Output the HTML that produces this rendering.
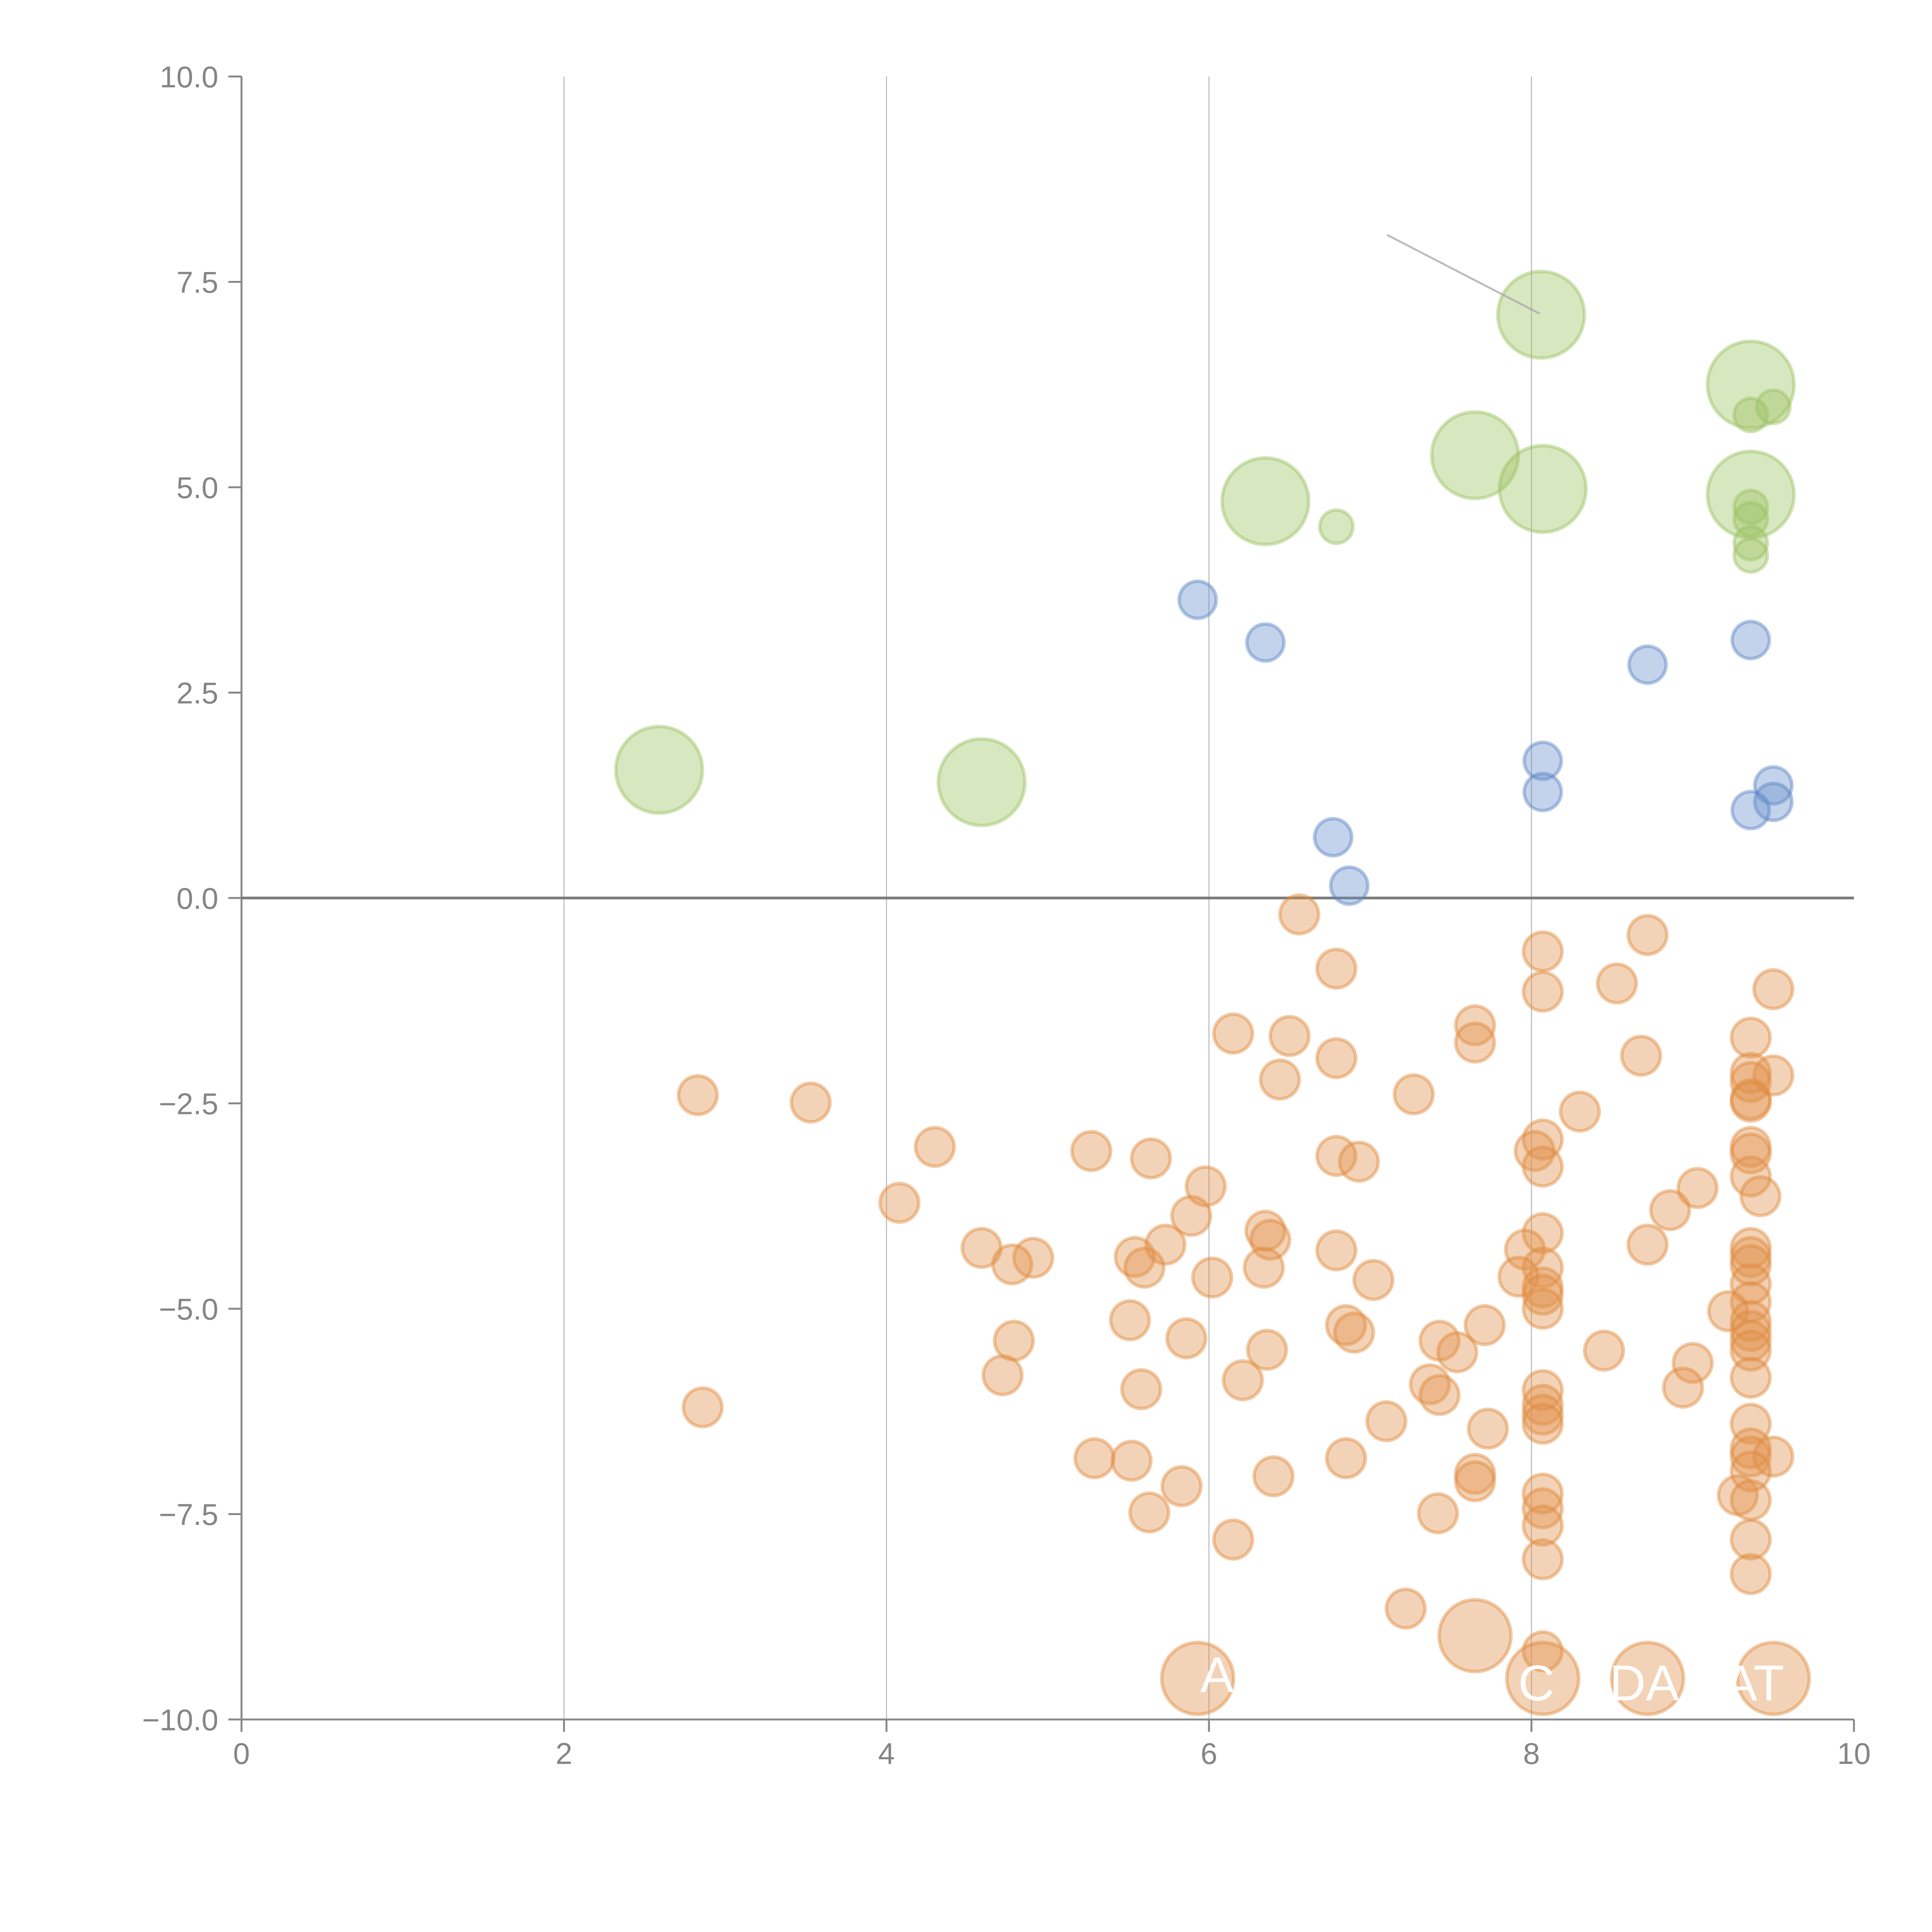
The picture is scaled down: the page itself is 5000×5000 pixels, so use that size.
<!DOCTYPE html>
<html><head><meta charset="utf-8"><style>
html,body{margin:0;padding:0;background:#fff;width:5000px;height:5000px;overflow:hidden}
svg{display:block}
text{font-family:"Liberation Sans",Arial,sans-serif}
</style></head><body>
<svg id="chart" width="5000" height="5000" xmlns="http://www.w3.org/2000/svg">
<rect width="5000" height="5000" fill="#fff"/>
<g id="grid"></g>
<g id="axes"></g>
<g id="marks"></g>
<g id="labels"></g>
</svg>
<script>
const xTicks = [0, 2, 4, 6, 8, 10];
const yTicks = [-10, -7.5, -5, -2.5, 0, 2.5, 5, 7.5, 10];
const yTickLabels = ["\u221210.0", "\u22127.5", "\u22125.0", "\u22122.5", "0.0", "2.5", "5.0", "7.5", "10.0"];

const greenLargeX = [8.06, 9.36, 7.65, 6.35, 8.07, 9.36, 2.59, 4.59];
const greenLargeY = [7.10, 6.25, 5.39, 4.83, 4.98, 4.91, 1.56, 1.41];
const greenSmallX = [9.36, 9.50, 6.79, 9.36, 9.36, 9.36, 9.36];
const greenSmallY = [5.88, 5.98, 4.52, 4.76, 4.61, 4.32, 4.17];
const blueX = [5.93, 6.35, 8.72, 9.36, 8.07, 8.07, 9.50, 9.50, 9.36, 6.77, 6.87];
const blueY = [3.63, 3.11, 2.84, 3.14, 1.67, 1.29, 1.37, 1.17, 1.07, 0.74, 0.15];
const orangeX = [6.56,8.72,8.07,6.79,8.53,8.07,9.50,7.65,6.15,6.50,9.36,7.65,8.68,6.79,9.36,9.50,9.36,6.44,2.83,7.27,3.53,9.36,9.36,8.30,8.07,4.30,5.27,8.02,9.36,9.36,5.64,6.79,6.93,8.07,9.36,9.03,5.98,9.42,4.08,8.86,5.89,6.35,8.07,6.38,5.73,8.72,7.96,9.36,4.59,6.79,9.36,4.91,5.54,4.78,5.60,6.34,8.07,9.36,6.02,7.92,7.02,9.36,8.07,8.07,9.36,8.07,9.22,5.51,9.36,7.71,6.85,6.90,9.36,9.36,5.86,4.79,7.43,9.36,6.36,7.54,8.45,9.00,4.72,9.36,6.21,5.58,8.94,7.37,7.43,8.07,8.07,2.86,8.07,8.07,9.36,7.10,7.73,9.36,9.36,9.50,5.29,5.52,6.85,9.36,7.65,6.40,7.65,5.83,9.28,8.07,9.36,8.07,5.63,7.42,8.07,6.15,9.36,8.07,9.36,7.22,8.07];
const orangeY = [-0.20,-0.45,-0.65,-0.86,-1.04,-1.14,-1.11,-1.55,-1.65,-1.68,-1.70,-1.76,-1.92,-1.95,-2.13,-2.16,-2.24,-2.21,-2.40,-2.39,-2.49,-2.45,-2.48,-2.60,-2.94,-3.03,-3.08,-3.08,-3.03,-3.11,-3.17,-3.14,-3.21,-3.27,-3.39,-3.53,-3.51,-3.63,-3.71,-3.80,-3.87,-4.05,-4.08,-4.16,-4.22,-4.22,-4.28,-4.26,-4.26,-4.29,-4.37,-4.38,-4.37,-4.46,-4.50,-4.50,-4.50,-4.47,-4.62,-4.61,-4.65,-4.70,-4.74,-4.83,-4.92,-5.00,-5.03,-5.14,-5.15,-5.20,-5.20,-5.29,-5.27,-5.39,-5.36,-5.39,-5.39,-5.51,-5.50,-5.53,-5.51,-5.66,-5.81,-5.84,-5.87,-5.98,-5.96,-5.92,-6.05,-5.99,-6.17,-6.20,-6.29,-6.40,-6.40,-6.37,-6.46,-6.70,-6.80,-6.80,-6.82,-6.85,-6.82,-6.98,-7.01,-7.04,-7.10,-7.16,-7.27,-7.25,-7.33,-7.43,-7.48,-7.49,-7.64,-7.81,-7.81,-8.05,-8.23,-8.65,-9.17];
const orangeLargeX = [7.65, 5.93, 8.07, 8.72, 9.50];
const orangeLargeY = [-8.98, -9.50, -9.50, -9.50, -9.50];
const bubbleLabels = ["A", "C", "DA", "AT"];
const bubbleLabelX = [6.05, 8.03, 8.70, 9.38];
const bubbleLabelY = [-9.45, -9.55, -9.55, -9.55];

const X0 = 625, X1 = 4798, Y0 = 4450, Y1 = 198;
const sx = v => X0 + (v - 0) / 10 * (X1 - X0);
const sy = v => Y0 - (v + 10) / 20 * (Y0 - Y1);
const NS = "http://www.w3.org/2000/svg";
function mk(tag, parent, attrs) {
  const e = document.createElementNS(NS, tag);
  for (const k in attrs) e.setAttribute(k, attrs[k]);
  parent.appendChild(e);
  return e;
}
const grid = document.getElementById('grid');
const axes = document.getElementById('axes');
const marks = document.getElementById('marks');
const labels = document.getElementById('labels');

xTicks.forEach((t) => {
  if (t > 0 && t < 10) {
    const g = mk('line', grid, {x1: sx(t), x2: sx(t), y1: sy(10), y2: sy(-10), stroke: '#b5b5b5', 'stroke-width': 2.5});
    
    
  }
  const tk = mk('line', axes, {x1: sx(t), x2: sx(t), y1: sy(-10), y2: sy(-10) + 32, stroke: '#888', 'stroke-width': 5});
  
  
  const tl = mk('text', axes, {x: sx(t), y: sy(-10) + 115, 'text-anchor': 'middle', 'font-size': 78, fill: '#858585'});
  tl.textContent = String(t);
  
  
});
yTicks.forEach((t, i) => {
  const tk = mk('line', axes, {x1: sx(0) - 34, x2: sx(0), y1: sy(t), y2: sy(t), stroke: '#888', 'stroke-width': 5});
  
  
  const tl = mk('text', axes, {x: sx(0) - 60, y: sy(t) + 28, 'text-anchor': 'end', 'font-size': 78, fill: '#858585'});
  tl.textContent = yTickLabels[i];
  
  
});
const ya = mk('line', axes, {x1: sx(0), x2: sx(0), y1: sy(10), y2: sy(-10), stroke: '#888', 'stroke-width': 5});


const xa = mk('line', axes, {x1: sx(0), x2: sx(10), y1: sy(-10), y2: sy(-10), stroke: '#888', 'stroke-width': 5});


const zl = mk('line', axes, {x1: sx(0), x2: sx(10), y1: sy(0), y2: sy(0), stroke: '#7a7a7a', 'stroke-width': 7});



function series(xs, ys, r, fill, stroke, name) {
  xs.forEach((x, i) => {
    const c = mk('circle', marks, {cx: sx(x), cy: sy(ys[i]), r: r, fill: fill, 'fill-opacity': 0.4, stroke: stroke, 'stroke-opacity': 0.45, 'stroke-width': 9});
    
    
  });
}
series(greenLargeX, greenLargeY, 112, '#9cc262', '#9cc262', 'green-bubble-large');
series(greenSmallX, greenSmallY, 43, '#9cc262', '#9cc262', 'green-bubble');
series(blueX, blueY, 48, '#6a90cc', '#5a82c4', 'blue-bubble');
series(orangeX, orangeY, 50, '#e0914a', '#e08a3c', 'orange-bubble');
series(orangeLargeX, orangeLargeY, 93, '#e0914a', '#e08a3c', 'orange-bubble-large');

const lead = mk('line', labels, {x1: 3590, y1: 608, x2: 3985, y2: 812, stroke: '#aaa', 'stroke-width': 5, 'stroke-opacity': 0.8});


bubbleLabels.forEach((s, i) => {
  const t = mk('text', labels, {x: sx(bubbleLabelX[i]), y: sy(bubbleLabelY[i]) + 46, 'text-anchor': 'middle', 'font-size': 130, fill: '#fff'});
  t.textContent = s;
  
  
});
</script>
</body></html>
